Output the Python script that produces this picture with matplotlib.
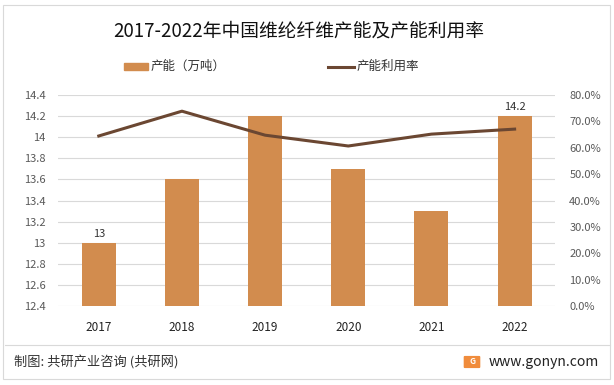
import matplotlib.pyplot as plt
from matplotlib.patches import Rectangle, FancyBboxPatch
from matplotlib.lines import Line2D

plt.rcParams['font.family'] = ['Noto Sans CJK SC', 'DejaVu Sans']

years = ['2017', '2018', '2019', '2020', '2021', '2022']
capacity = [13.0, 13.6, 14.2, 13.7, 13.3, 14.2]
utilization = [64.5, 73.9, 64.8, 60.7, 65.2, 67.1]
left_ticks = [12.4, 12.6, 12.8, 13, 13.2, 13.4, 13.6, 13.8, 14, 14.2, 14.4]
right_ticks = [0, 10, 20, 30, 40, 50, 60, 70, 80]

bar_color = '#D28C4E'
line_color = '#6B4732'
text_color = '#595959'

W, H = 614, 385


def fx(px):
    return px / W


def fy(py):
    return 1 - py / H


fig = plt.figure(figsize=(6.14, 3.85), dpi=100)
ax = fig.add_axes([0.0945, 0.205, 0.81, 0.548])
x = list(range(len(years)))
ax.bar(x, capacity, width=0.41, color=bar_color, zorder=2)
ax.set_ylim(12.4, 14.4)
ax.set_xlim(-0.49, 5.49)
ax.set_yticks(left_ticks)
ax.set_yticklabels([f'{v:g}' for v in left_ticks])
ax.set_xticks(x)
ax.set_xticklabels(years)
ax.grid(axis='y', color='#D9D9D9', linewidth=0.8, zorder=0)
for s in ax.spines.values():
    s.set_visible(False)
ax.tick_params(axis='both', length=0, labelsize=8, colors=text_color)
ax.tick_params(axis='x', pad=11, labelcolor='#222222', labelsize=8.5)
ax.tick_params(axis='y', pad=9)

for i in (0, 5):
    ax.text(x[i], capacity[i] + 0.04, f'{capacity[i]:g}', ha='center', va='bottom',
            fontsize=8, color='#333333')

ax2 = ax.twinx()
ax2.plot(x, utilization, color=line_color, linewidth=2.2, zorder=3)
ax2.set_ylim(0, 80)
ax2.set_yticks(right_ticks)
ax2.set_yticklabels([f'{v:.1f}%' for v in right_ticks])
for s in ax2.spines.values():
    s.set_visible(False)
ax2.tick_params(axis='y', length=0, labelsize=8, colors=text_color, pad=10)

fig.text(fx(113), fy(31), '2017-2022年中国维纶纤维产能及产能利用率', ha='left', va='center',
         fontsize=13.5, color='#111111')

# legend
fig.patches.append(Rectangle((fx(124), fy(70)), 24 / W, 7 / H,
                             transform=fig.transFigure, color=bar_color))
fig.text(fx(151), fy(66), '产能（万吨）', va='center', fontsize=9, color='#333333')
fig.lines.append(Line2D([fx(328), fx(354)], [fy(67), fy(67)],
                        transform=fig.transFigure, color=line_color, linewidth=2.2))
fig.text(fx(357), fy(66), '产能利用率', va='center', fontsize=9, color='#333333')

# footer
fig.lines.append(Line2D([fx(5), fx(610)], [fy(345), fy(345)],
                        transform=fig.transFigure, color='#D9D9D9', linewidth=0.8))
fig.text(fx(14), fy(363), '制图: 共研产业咨询 (共研网)', va='center', fontsize=9.5,
         color='#333333')
fig.patches.append(FancyBboxPatch((fx(465), fy(367)), 14 / W, 10 / H,
                                  boxstyle='round,pad=0.001', transform=fig.transFigure,
                                  color='#F08C3C'))
fig.text(fx(472), fy(362), 'G', ha='center', va='center', fontsize=6,
         color='white', fontweight='bold')
fig.text(fx(489), fy(362), 'www.gonyn.com', ha='left', va='center', fontsize=10,
         color='#222222')

# outer border
fig.patches.append(Rectangle((fx(3), fy(379)), 607 / W, 374 / H, transform=fig.transFigure,
                             fill=False, edgecolor='#D9D9D9', linewidth=0.8))

fig.savefig('out.png', dpi=100)
